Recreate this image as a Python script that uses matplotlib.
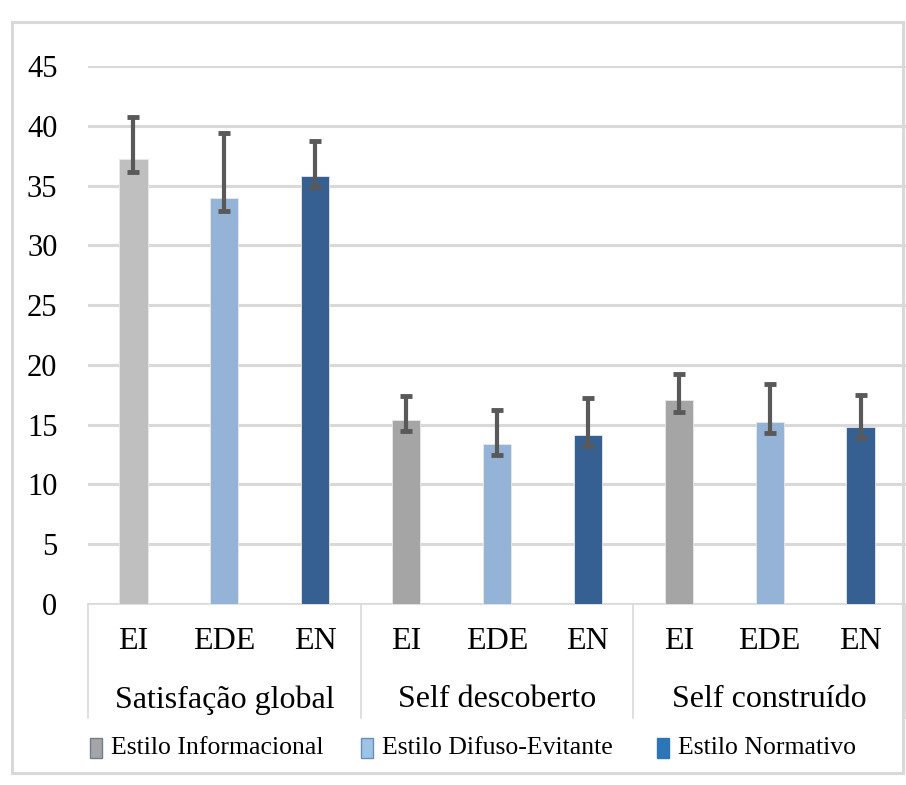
import matplotlib.pyplot as plt
from matplotlib.patches import Rectangle

groups = ["Satisfação global", "Self descoberto", "Self construído"]
styles = ["EI", "EDE", "EN"]
legend_names = ["Estilo Informacional", "Estilo Difuso-Evitante", "Estilo Normativo"]

means = [37.2, 34.0, 35.8, 15.4, 13.4, 14.1, 17.1, 15.2, 14.8]
upper = [40.7, 39.4, 38.7, 17.4, 16.2, 17.2, 19.2, 18.4, 17.5]
lower = [36.1, 32.9, 34.9, 14.5, 12.5, 13.2, 16.1, 14.3, 13.9]

bar_colors = ["#BFBFBF", "#95B3D7", "#376092",
              "#A5A5A5", "#95B3D7", "#376092",
              "#A5A5A5", "#95B3D7", "#376092"]
legend_colors = ["#A5A5A5", "#9DC3E6", "#2E75B6"]
legend_edges = ["#6F7F8F", "#6A8EB5", "#2E75B6"]

plt.rcParams["font.family"] = ["Liberation Serif", "DejaVu Serif"]

W, H = 906, 785
fig = plt.figure(figsize=(W / 100, H / 100), dpi=100)
ax = fig.add_axes([88 / W, (H - 604) / H, (906 - 88) / W, 538 / H])

x = list(range(len(means)))
err_lo = [m - l for m, l in zip(means, lower)]
err_hi = [u - m for m, u in zip(means, upper)]
ax.bar(x, means, width=0.31, color=bar_colors, edgecolor="#E8E8E8", linewidth=0.6, zorder=3)
ax.errorbar(x, means, yerr=[err_lo, err_hi], fmt="none", ecolor="#595959",
            elinewidth=3, capsize=4.5, capthick=3.5, zorder=4)

ax.set_xlim(-0.5, 8.5)
ax.set_ylim(0, 45)
ax.set_yticks(range(0, 46, 5))
ax.tick_params(axis="y", length=0, pad=22, labelsize=22)
ax.tick_params(axis="x", length=0, labelbottom=False)
ax.yaxis.grid(True, color="#D9D9D9", linewidth=2.2, zorder=0)
for s in ["left", "right", "top"]:
    ax.spines[s].set_visible(False)
ax.spines["bottom"].set_color("#D9D9D9")
ax.spines["bottom"].set_linewidth(1.2)

trans = ax.get_xaxis_transform()
for i, xi in enumerate(x):
    ax.text(xi, -0.07, styles[i % 3], transform=trans, ha="center", va="center", fontsize=23)
for g, name in enumerate(groups):
    ax.text(3 * g + 1, -0.178, name, transform=trans, ha="center", va="center", fontsize=23)
for xs in [-0.5, 2.5, 5.5, 8.5]:
    ax.plot([xs, xs], [0, -0.212], transform=trans, color="#D9D9D9", linewidth=1.2, clip_on=False)

# legend drawn by hand
leg_x = [90, 361, 657]
leg_y = H - 748
for lx, name, c, ec in zip(leg_x, legend_names, legend_colors, legend_edges):
    fig.patches.append(Rectangle((lx / W, (leg_y - 10) / H), 12 / W, 20 / H,
                                 transform=fig.transFigure, facecolor=c, edgecolor=ec, linewidth=1))
    fig.text((lx + 21) / W, leg_y / H, name, ha="left", va="center", fontsize=18.5)

# outer frame
fig.patches.append(Rectangle((12 / W, (H - 773) / H), (903 - 12) / W, (773 - 22) / H,
                             transform=fig.transFigure, fill=False, edgecolor="#D9D9D9", linewidth=2.2))

fig.savefig("out.png", dpi=100)
